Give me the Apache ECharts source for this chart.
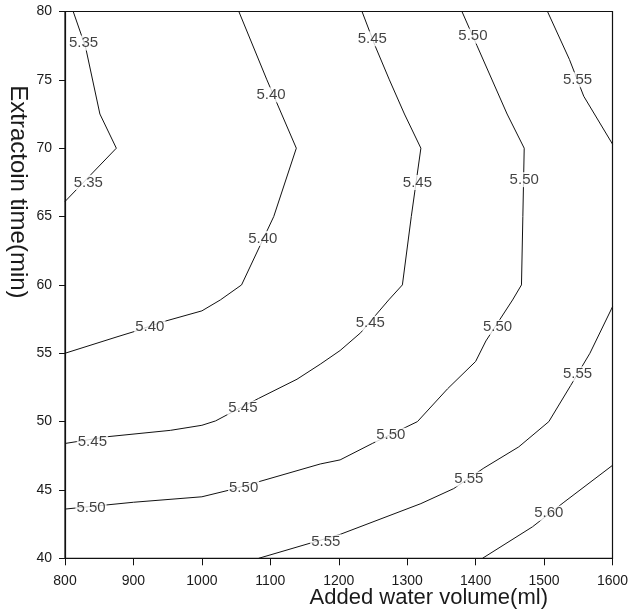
<!DOCTYPE html>
<html>
<head>
<meta charset="utf-8">
<script src="https://cdn.jsdelivr.net/npm/echarts@6/dist/echarts.min.js"></script>
<style>html,body{margin:0;padding:0;background:#fff;}#chart{width:630px;height:611px;}</style>
</head>
<body>
<div id="chart"></div>
<script>
// Contour lines (added water volume ml, extraction time min)
const c535 = [[812,80],[830,77.4],[851,72.5],[875,70],[800,66.1]];
const c540 = [[1054,80],[1095,75],[1138,70],[1105,65],[1058,60],[1027,58.9],[1000,58.1],[943,57.3],[902,56.6],[876,56.2],[800,55]];
const c545 = [[1234,80],[1253,77.5],[1274,75],[1296,72.5],[1320,70],[1306,65],[1293,60],[1273,58.9],[1232,56.5],[1202,55.2],[1173,54.2],[1139,53.1],[1083,51.7],[1037,50.5],[1020,50.05],[1000,49.73],[954,49.36],[863,48.9],[800,48.4]];
const c550 = [[1380,80],[1402,77.5],[1446,72.5],[1471,70],[1469,65],[1467,60],[1454,58.9],[1415,55.9],[1400,54.4],[1359,52.4],[1315,50],[1249,48.4],[1202,47.2],[1173,46.9],[1083,45.6],[1041,45.0],[1000,44.5],[900,44.1],[800,43.6]];
const c555a = [[1505,80],[1537,76.5],[1558,73.8],[1600,70.3]];
const c555b = [[1600,58.4],[1567,55],[1539,52.65],[1507,50],[1463,48.15],[1412,46.6],[1368,45.1],[1320,44.0],[1202,41.75],[1083,40]];
const c560 = [[1600,46.8],[1529,44.1],[1483,42.3],[1410,40]];
const contourLabels = [
  [827,77.7,'5.35'],[834,67.5,'5.35'],
  [1101,73.9,'5.40'],[1089,63.4,'5.40'],[924,56.9,'5.40'],
  [1249,78.0,'5.45'],[1315,67.5,'5.45'],[1246,57.2,'5.45'],[1060,51.0,'5.45'],[840,48.5,'5.45'],
  [1396,78.2,'5.50'],[1471,67.7,'5.50'],[1432,56.9,'5.50'],[1276,49.0,'5.50'],[1061,45.15,'5.50'],[838,43.7,'5.50'],
  [1549,75.0,'5.55'],[1549,53.5,'5.55'],[1390,45.8,'5.55'],[1181,41.2,'5.55'],
  [1507,43.3,'5.60']
];
const xRange = [800, 1600, 100];
const yRange = [40, 80, 5];

const FONT = 'Liberation Sans, Arial, sans-serif';
const lineSeries = [c535, c540, c545, c550, c555a, c555b, c560].map(d => ({
  type: 'line', data: d, symbol: 'none', smooth: false,
  lineStyle: { color: '#111', width: 1 }, z: 2, silent: true
}));

const chart = echarts.init(document.getElementById('chart'), null, { renderer: 'canvas' });
chart.setOption({
  animation: false,
  backgroundColor: '#fff',
  grid: { left: 65, right: 17.5, top: 11.5, bottom: 52.7, show: true, borderColor: '#111', borderWidth: 1.2,
          containLabel: false, outerBoundsMode: 'none' },
  xAxis: {
    type: 'value', min: xRange[0], max: xRange[1], interval: xRange[2],
    name: 'Added water volume(ml)', nameLocation: 'middle', nameGap: 29, nameMoveOverlap: false,
    nameTextStyle: { fontFamily: FONT, fontSize: 22, color: '#1a1a1a', padding: [0, 0, 0, 180] },
    axisLine: { lineStyle: { color: '#111', width: 1.2 } },
    axisTick: { show: true, inside: false, length: 7, lineStyle: { color: '#111' } },
    axisLabel: { fontFamily: FONT, fontSize: 14, color: '#1a1a1a', margin: 16, formatter: v => String(v) },
    splitLine: { show: false }
  },
  yAxis: {
    type: 'value', min: yRange[0], max: yRange[1], interval: yRange[2],
    name: 'Extractoin time(min)', nameLocation: 'middle', nameGap: 35, nameRotate: -90, nameMoveOverlap: false,
    nameTextStyle: { fontFamily: FONT, fontSize: 24, color: '#1a1a1a', padding: [0, 186, 0, 0] },
    axisLine: { lineStyle: { color: '#111', width: 1.2 } },
    axisTick: { show: true, inside: false, length: 6, lineStyle: { color: '#111' } },
    axisLabel: { fontFamily: FONT, fontSize: 14, color: '#1a1a1a', margin: 13, formatter: v => String(v) },
    splitLine: { show: false }
  },
  series: lineSeries.concat([{
    type: 'scatter', data: contourLabels, symbolSize: 0, z: 5, silent: true,
    label: {
      show: true, position: 'inside', formatter: p => p.data[2],
      fontFamily: FONT, fontSize: 15, color: '#111',
      backgroundColor: '#fff', padding: [0, 1]
    }
  }])
});
</script>
</body>
</html>
